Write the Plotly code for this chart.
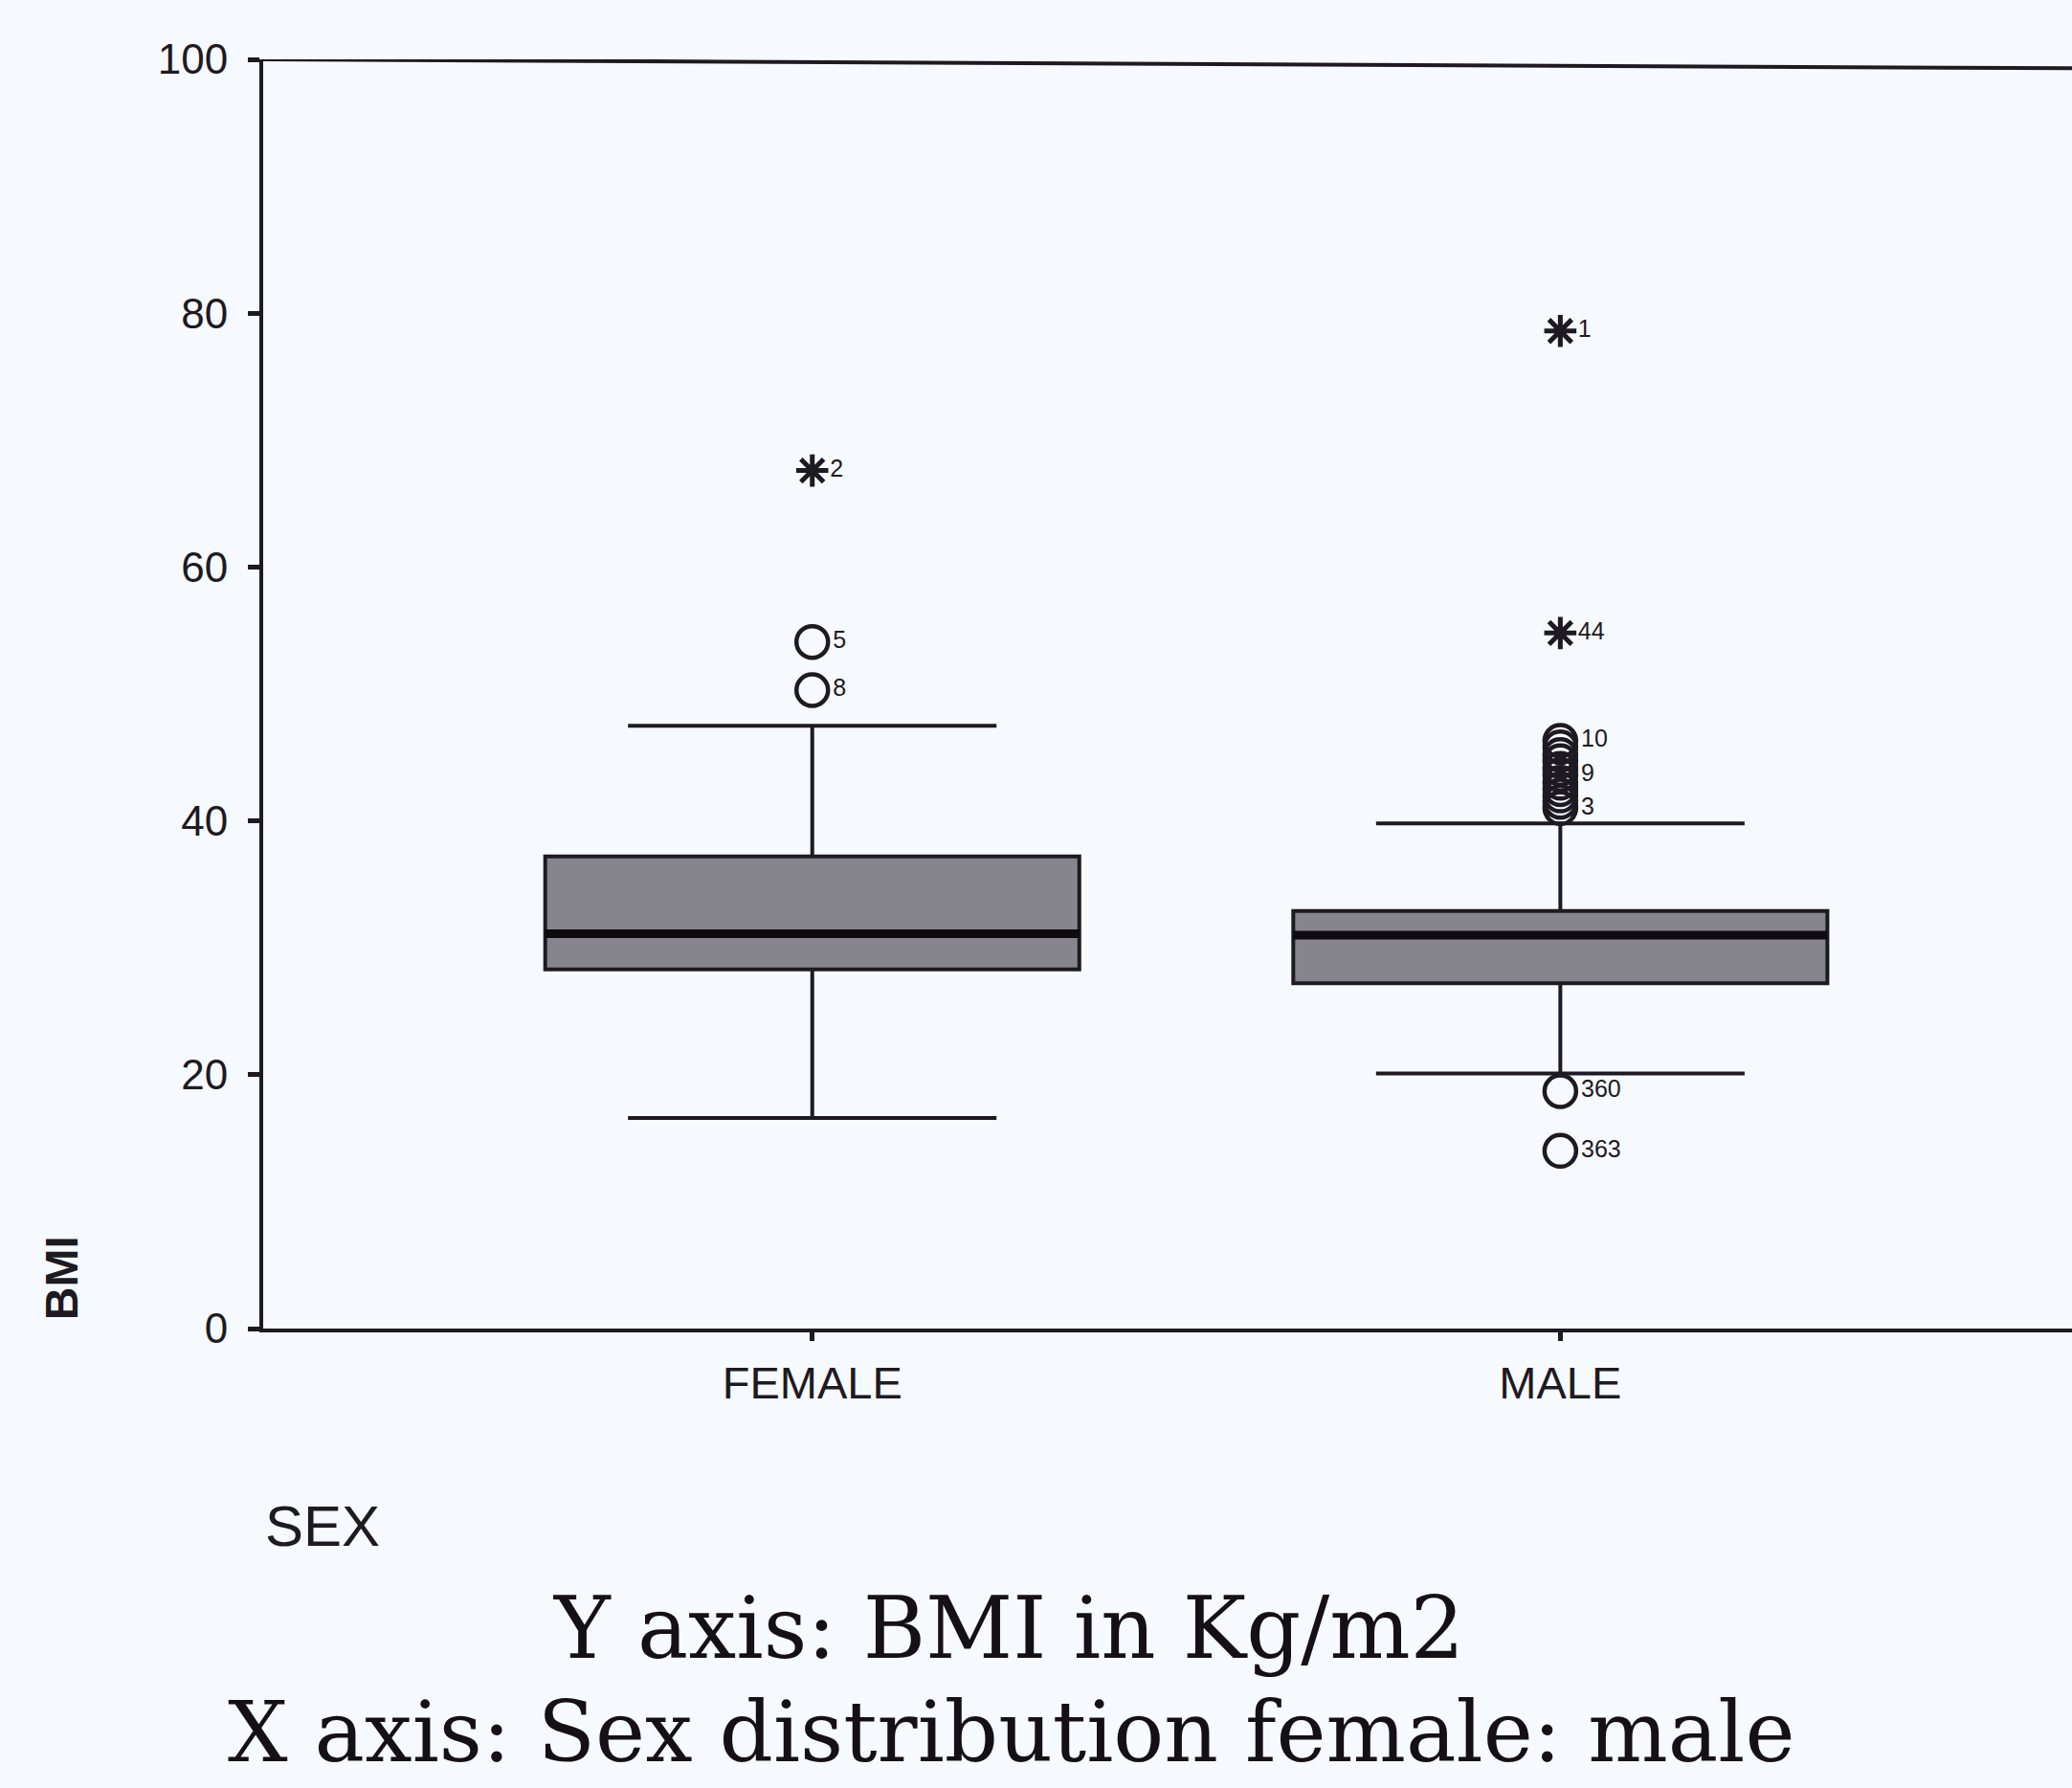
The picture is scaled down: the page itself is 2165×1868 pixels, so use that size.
import plotly.graph_objects as go

# Box-plot summary of BMI by sex
categories = ["FEMALE", "MALE"]
q1 = [28.3, 27.2]
medians = [31.1, 31.0]
q3 = [37.2, 32.9]
lower_whisker = [16.6, 20.1]
upper_whisker = [47.5, 39.8]

# Outliers (open circles) and extremes (asterisks), with case labels
female_outliers = [54.1, 50.3]
female_outlier_ids = ["5", "8"]
female_extremes = [67.6]
female_extreme_ids = ["2"]

male_outliers = [46.3, 45.8, 45.2, 44.7, 44.1, 43.6, 43.0, 42.5, 42.0, 41.5, 41.0, 18.7, 14.0]
male_outlier_ids = ["10", "", "", "", "", "9", "", "", "", "", "3", "360", "363"]
male_extremes = [78.6, 54.8]
male_extreme_ids = ["1", "44"]

y_ticks = [0, 20, 40, 60, 80, 100]

INK = "#1d1a22"
BOX_FILL = "#86848c"
BG = "#f6f9fd"
BOX_W = 0.714

fig = go.Figure()

for i, cat in enumerate(categories):
    fig.add_trace(go.Box(
        x=[i], q1=[q1[i]], median=[medians[i]], q3=[q3[i]],
        lowerfence=[lower_whisker[i]], upperfence=[upper_whisker[i]],
        width=BOX_W, whiskerwidth=0.69,
        fillcolor=BOX_FILL, line=dict(color=INK, width=4),
        boxpoints=False, showlegend=False, hoverinfo="skip", name=cat,
    ))
    # heavy median bar
    fig.add_trace(go.Scatter(
        x=[i - BOX_W / 2, i + BOX_W / 2], y=[medians[i], medians[i]],
        mode="lines", line=dict(color="#0d0a10", width=9),
        showlegend=False, hoverinfo="skip",
    ))

def add_points(xpos, values, ids, symbol, size, lw):
    fig.add_trace(go.Scatter(
        x=[xpos] * len(values), y=values, text=ids,
        mode="markers+text", textposition="middle right",
        textfont=dict(family="Liberation Sans", size=25, color=INK),
        marker=dict(symbol=symbol, size=size, color=INK,
                    line=dict(color=INK, width=lw)),
        showlegend=False, hoverinfo="skip", cliponaxis=False,
    ))

add_points(0, female_outliers, female_outlier_ids, "circle-open", 33, 4.5)
add_points(0, female_extremes, female_extreme_ids, "asterisk-open", 28, 5)
add_points(1, male_outliers, male_outlier_ids, "circle-open", 33, 4.5)
add_points(1, male_extremes, male_extreme_ids, "asterisk-open", 28, 5)

fig.update_layout(
    width=2165, height=1868,
    margin=dict(l=275, r=0, t=62, b=480),
    paper_bgcolor=BG, plot_bgcolor=BG,
    font=dict(family="Liberation Sans", color=INK),
    xaxis=dict(
        range=[-0.734, 1.684], tickvals=[0, 1], ticktext=categories,
        showgrid=False, zeroline=False, showline=True, linecolor=INK, linewidth=4,
        ticks="outside", ticklen=9, tickwidth=5, tickcolor=INK,
        tickfont=dict(size=47, color=INK), ticklabelstandoff=4,
    ),
    yaxis=dict(
        range=[0, 100], tickvals=y_ticks,
        showgrid=False, zeroline=False, showline=True, linecolor=INK, linewidth=4,
        ticks="outside", ticklen=12, tickwidth=5, tickcolor=INK,
        tickfont=dict(size=44, color=INK), ticklabelstandoff=12,
    ),
    shapes=[
        # top frame line
        dict(type="line", xref="paper", yref="y", x0=0, x1=1, y0=100, y1=99.3,
             line=dict(color=INK, width=4)),
    ],
    annotations=[
        dict(text="<b>BMI</b>", textangle=-90, xref="paper", yref="paper",
             x=-0.111, y=0.04, xanchor="center", yanchor="middle", showarrow=False,
             font=dict(size=48, color=INK)),
        dict(text="SEX", xref="paper", yref="paper", x=0.0, y=-0.156,
             xanchor="left", yanchor="middle", showarrow=False,
             font=dict(size=60, color=INK)),
        dict(text="Y axis: BMI in Kg/m2", xref="paper", yref="paper",
             x=0.412, y=-0.236, xanchor="center", yanchor="middle", showarrow=False,
             font=dict(family="DejaVu Serif", size=89, color="#141016")),
        dict(text="X axis: Sex distribution female: male", xref="paper", yref="paper",
             x=0.414, y=-0.318, xanchor="center", yanchor="middle", showarrow=False,
             font=dict(family="DejaVu Serif", size=88, color="#141016")),
    ],
)

fig.write_html("out.html")
